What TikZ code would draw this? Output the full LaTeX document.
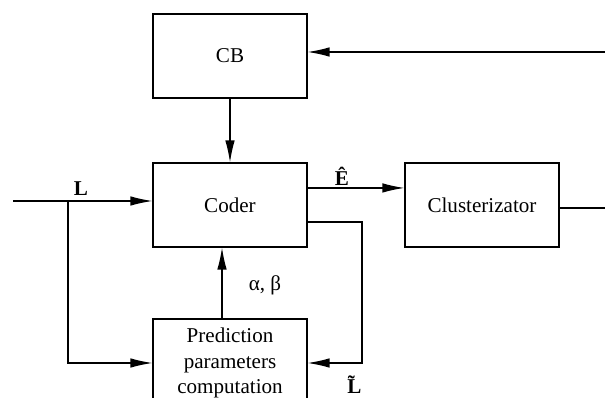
\documentclass[tikz,border=0pt]{standalone}
\usepackage{fontspec}
\setmainfont{Liberation Serif}
\usepackage{tikz}
\usetikzlibrary{calc,arrows.meta}

\begin{document}
\begin{tikzpicture}[x=0.02cm,y=-0.02cm,
							line width=0.7pt,
							block/.style={rectangle,draw,minimum width=3.08cm,minimum height=1.68cm,
								align=center,font=\fontsize{12}{14.5}\selectfont},
							lbl/.style={font=\fontsize{12}{14.5}\selectfont,inner sep=0pt},
							arr/.style={-{Latex[length=0.44cm,width=0.19cm]}}]
			\useasboundingbox (0,0) rectangle (605,398);
			\clip (0,0) rectangle (605,398);
			% blocks
			\node[block] (cb) at (230,56) {CB};
			\node[block] (coder) at (230,205) {Coder};
			\node[block] (clu) at (482,205) {Clusterizator};
			\node[block,minimum height=1.76cm] (pred) at (230,363) {Prediction\\parameters\\computation};
			% free ends
			\coordinate (inL) at (13,201);
			\coordinate (split) at (68,201);
			\coordinate (fbx) at (362,0);
			\coordinate (cbIn) at (605,52);
			\coordinate (cluOut) at (605,208);
			\coordinate (eOut) at ($(coder.north east)!0.3!(coder.south east)$);
			\coordinate (lOut) at ($(coder.north east)!0.7!(coder.south east)$);
			% connectors
			\draw[arr] (inL) -- (inL -| coder.west);
			\draw[arr] (split) |- (pred.west);
			\draw[arr] (cb.south) -- (coder.north);
			\draw[arr] ([xshift=-0.16cm]pred.north) -- ([xshift=-0.16cm]coder.south);
			\draw[arr] (eOut) -- (eOut -| clu.west);
			\draw[arr] (lOut) -| (fbx |- pred.east) -- (pred.east);
			\draw (cluOut -| clu.east) -- (cluOut);
			\draw[arr] (cbIn) -- (cbIn -| cb.east);
			% labels
			\node[lbl] (lL) at (81,189) {\textbf{L}};
			\node[lbl] (lE) at (342,176) {\textbf{\^{E}}};
			\node[lbl] (lLt) at (358,385) {\textbf{\~{L}}};
			\node[lbl] (lab) at (265,285) {α, β};
		\end{tikzpicture}
\end{document}
